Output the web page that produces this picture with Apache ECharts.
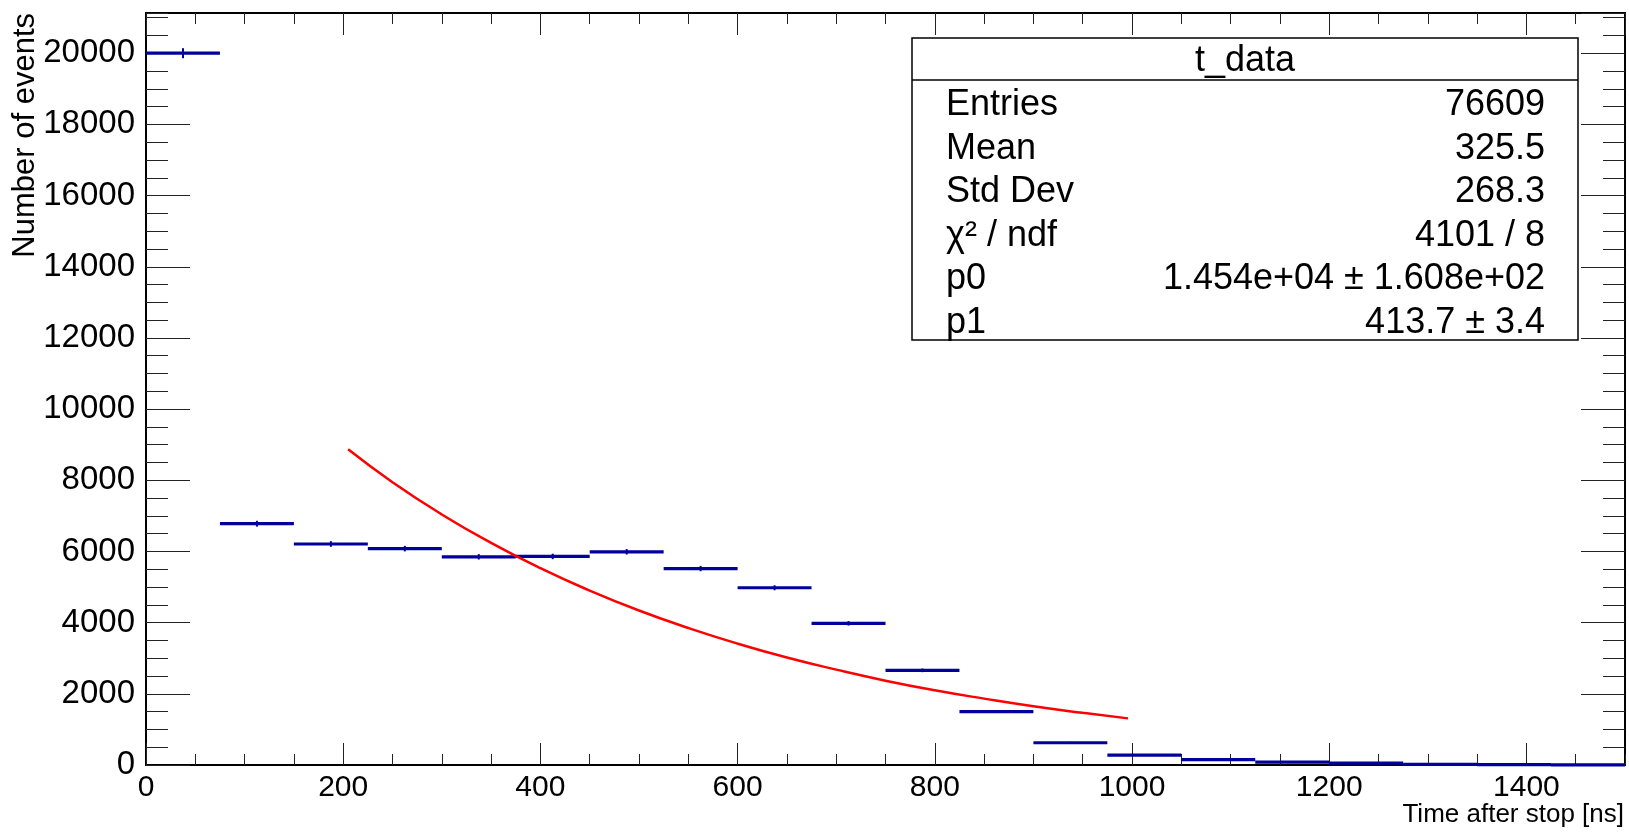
<!DOCTYPE html>
<html>
<head>
<meta charset="utf-8">
<script src="https://cdn.jsdelivr.net/npm/echarts@6/dist/echarts.min.js"></script>
<style>
html,body{margin:0;padding:0;background:#fff;}
#chart{width:1629px;height:832px;}
</style>
</head>
<body>
<div id="chart"></div>
<script>
// ---- data ----
const binEdges = [0, 75, 150, 225, 300, 375, 450, 525, 600, 675, 750, 825, 900, 975, 1050, 1125, 1200, 1275, 1350, 1425, 1500];
const counts   = [20000, 6780, 6210, 6080, 5850, 5860, 5990, 5520, 4980, 3980, 2660, 1500, 625, 280, 150, 80, 55, 20, 10, 5];
const errors   = [141, 82, 79, 78, 76, 77, 77, 74, 71, 63, 52, 39, 25, 17, 12, 9, 7, 4, 3, 2];
const fitX     = [205, 250, 300, 350, 400, 450, 500, 550, 600, 650, 700, 750, 800, 850, 900, 950, 996];
const fitY     = [8870, 7945, 7040, 6240, 5530, 4900, 4340, 3850, 3410, 3020, 2680, 2370, 2100, 1865, 1650, 1465, 1310];
const xTickLabels = [0, 200, 400, 600, 800, 1000, 1200, 1400];
const yTickLabels = [0, 2000, 4000, 6000, 8000, 10000, 12000, 14000, 16000, 18000, 20000];
const statsTitle = 't_data';
const statsNames  = ['Entries', 'Mean', 'Std Dev', 'χ\u00B2 / ndf', 'p0', 'p1'];
const statsValues = ['76609', '325.5', '268.3', '4101 / 8', '1.454e+04 \u00B1 1.608e+02', '413.7 \u00B1 3.4'];
const xTitle = 'Time after stop [ns]';
const yTitle = 'Number of events';

const FONT = '"Liberation Sans", Arial, Helvetica, sans-serif';
const X_MIN = 0, X_MAX = 1500, Y_MIN = 0, Y_MAX = 21130;
const BLUE = '#00009c';

const histData = counts.map((c, i) => [binEdges[i], binEdges[i + 1], c, errors[i]]);
const fitData = fitX.map((x, i) => [x, fitY[i]]);

function mkX(pos, interval, len, showLabel) {
  return {
    type: 'value', position: pos, min: X_MIN, max: X_MAX, interval: interval,
    axisLine: { show: false, onZero: false },
    axisTick: { show: true, inside: true, length: len, lineStyle: { color: '#222', width: 1 } },
    axisLabel: showLabel ? {
      show: true, fontFamily: FONT, fontSize: 30, color: '#000', margin: 8,
      showMaxLabel: false,
      formatter: v => (xTickLabels.indexOf(v) >= 0 ? String(v) : '')
    } : { show: false },
    splitLine: { show: false }
  };
}
function mkY(pos, interval, len, showLabel) {
  return {
    type: 'value', position: pos, min: Y_MIN, max: Y_MAX, interval: interval,
    axisLine: { show: false, onZero: false },
    axisTick: { show: true, inside: true, length: len, lineStyle: { color: '#222', width: 1 } },
    axisLabel: showLabel ? {
      show: true, fontFamily: FONT, fontSize: 33, color: '#000', margin: 11,
      showMaxLabel: false,
      formatter: v => (yTickLabels.indexOf(v) >= 0 ? String(v) : '')
    } : { show: false },
    splitLine: { show: false }
  };
}

const graphics = [];
// axis titles
graphics.push({
  type: 'text', x: 1624, y: 815, z: 10,
  style: { text: xTitle, fontFamily: FONT, fontSize: 26, fill: '#000', align: 'right', verticalAlign: 'middle' }
});
graphics.push({
  type: 'text', x: 25, y: 13, rotation: Math.PI / 2, z: 10,
  style: { text: yTitle, fontFamily: FONT, fontSize: 31, fill: '#000', align: 'right', verticalAlign: 'middle' }
});
// stats box
const BOX = { x: 912, y: 38, w: 666, h: 302, sep: 80 };
graphics.push({
  type: 'rect', z: 20,
  shape: { x: BOX.x, y: BOX.y, width: BOX.w, height: BOX.h },
  style: { fill: '#fff', stroke: '#000', lineWidth: 1.5 }
});
graphics.push({
  type: 'line', z: 21,
  shape: { x1: BOX.x, y1: BOX.sep, x2: BOX.x + BOX.w, y2: BOX.sep },
  style: { stroke: '#000', lineWidth: 1.5 }
});
graphics.push({
  type: 'text', z: 22, x: BOX.x + BOX.w / 2, y: 61,
  style: { text: statsTitle, fontFamily: FONT, fontSize: 36, fill: '#000', align: 'center', verticalAlign: 'middle' }
});
const rowY0 = 105, rowStep = 43.6;
statsNames.forEach((n, i) => {
  graphics.push({
    type: 'text', z: 22, x: 946, y: rowY0 + i * rowStep,
    style: { text: n, fontFamily: FONT, fontSize: 36, fill: '#000', align: 'left', verticalAlign: 'middle' }
  });
  graphics.push({
    type: 'text', z: 22, x: 1545, y: rowY0 + i * rowStep,
    style: { text: statsValues[i], fontFamily: FONT, fontSize: 36, fill: '#000', align: 'right', verticalAlign: 'middle' }
  });
});

const chart = echarts.init(document.getElementById('chart'), null, { renderer: 'canvas' });
chart.setOption({
  animation: false,
  backgroundColor: '#fff',
  grid: { left: 146, right: 4, top: 13, bottom: 67, show: true, borderColor: '#000', borderWidth: 2, backgroundColor: 'transparent' },
  xAxis: [mkX('bottom', 200, 22, true), mkX('bottom', 50, 11, false), mkX('top', 200, 22, false), mkX('top', 50, 11, false)],
  yAxis: [mkY('left', 2000, 44, true), mkY('left', 500, 22, false), mkY('right', 2000, 44, false), mkY('right', 500, 22, false)],
  series: [
    {
      type: 'custom', xAxisIndex: 0, yAxisIndex: 0, z: 3,
      renderItem: function (params, api) {
        const x0 = api.value(0), x1 = api.value(1), v = api.value(2), e = api.value(3);
        const p0 = api.coord([x0, v]), p1 = api.coord([x1, v]);
        const xc = (x0 + x1) / 2;
        const pt = api.coord([xc, v + e]), pb = api.coord([xc, v - e]);
        return {
          type: 'group',
          children: [
            { type: 'line', shape: { x1: p0[0], y1: p0[1], x2: p1[0], y2: p1[1] }, style: { stroke: BLUE, lineWidth: 3.2 } },
            { type: 'line', shape: { x1: pt[0], y1: pt[1], x2: pb[0], y2: pb[1] }, style: { stroke: BLUE, lineWidth: 2 } }
          ]
        };
      },
      encode: { x: [0, 1], y: 2 },
      data: histData
    },
    {
      type: 'line', xAxisIndex: 0, yAxisIndex: 0, z: 4,
      data: fitData, smooth: true, showSymbol: false, symbol: 'none',
      lineStyle: { color: '#ff0000', width: 2.5 }
    }
  ],
  graphic: graphics
});
</script>
</body>
</html>
